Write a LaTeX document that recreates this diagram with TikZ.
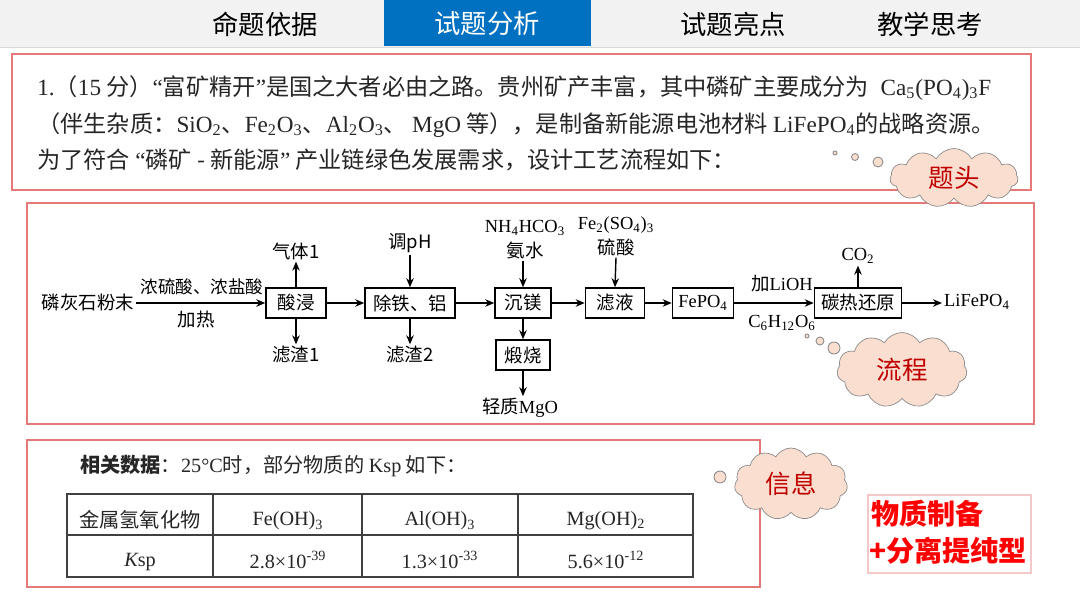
\documentclass[tikz,border=0pt]{standalone}
\usepackage{fontspec}
\setmainfont{Noto Sans CJK SC}
\newfontfamily\tnr{Liberation Serif}
\usetikzlibrary{positioning,arrows.meta,shapes.symbols}
\definecolor{framered}{RGB}{230,120,120}
\definecolor{tabblue}{RGB}{0,112,192}
\definecolor{barbg}{RGB}{242,242,242}
\definecolor{cloudfill}{RGB}{250,222,207}
\definecolor{cloudtext}{RGB}{192,0,0}
\definecolor{typered}{RGB}{255,0,0}
\definecolor{typeframe}{RGB}{244,200,200}
\newcommand\la[1]{{\tnr #1}}
\newcommand\sub[1]{\textsubscript{#1}}
\tikzset{
  redframe/.style={draw=framered,line width=0.8pt},
  procbox/.style={draw,line width=0.9pt,minimum height=0.6cm,inner sep=2pt,font=\fontsize{10.5}{12}\selectfont},
  flow/.style={-{Stealth[length=1.8mm,width=1.5mm]},line width=0.8pt},
  flowlbl/.style={inner sep=1pt,font=\fontsize{10.5}{12}\selectfont},
  tabtitle/.style={font=\fontsize{15}{18}\selectfont},
  stemline/.style={anchor=west,inner sep=0pt,font=\fontsize{13.2}{15}\selectfont,text=black!85},
  cloudnote/.style={cloud,cloud puffs=11,cloud puff arc=120,aspect=2.2,draw=black!45,
    fill=cloudfill,text=cloudtext,font=\fontsize{14.5}{17}\selectfont,inner sep=0pt},
  bub/.style={draw=black!45,fill=cloudfill,line width=0.5pt},
  celltxt/.style={inner sep=1pt,font=\fontsize{11.5}{13}\selectfont,text=black!85},
  tabrule/.style={line width=0.7pt,black!75},
}

\begin{document}
\begin{tikzpicture}[x=0.02cm,y=-0.02cm]
  \fill[white] (0,0) rectangle (1080,608);
  \useasboundingbox (0,0) rectangle (1080,608);
  % ---- tab bar ----
  \fill[barbg] (0,0) rectangle (1080,47);
  \draw[black!15] (0,47) -- (1080,47);
  \fill[tabblue] (384,0) rectangle (591,46);
  \node[tabtitle] (tab1) at (265,24) {命题依据};
  \node[tabtitle,text=white] (tab2) at (487,24) {试题分析};
  \node[tabtitle] (tab3) at (733,24) {试题亮点};
  \node[tabtitle] (tab4) at (930,24) {教学思考};

  % ---- stem ----
  \draw[redframe] (12,54) rectangle (1031,190);
  \node[stemline] (l1) at (37,88)
    {\la{1.}（\la{15} 分）\la{“}富矿精开\la{”}是国之大者必由之路。贵州矿产丰富，其中磷矿主要成分为\hspace{0.5em}\la{Ca\sub{5}(PO\sub{4})\sub{3}F}};
  \node[stemline] (l2) at (37,125)
    {（伴生杂质：\la{SiO\sub{2}}、\la{Fe\sub{2}O\sub{3}}、\la{Al\sub{2}O\sub{3}}、 \la{MgO} 等），是制备新能源电池材料 \la{LiFePO\sub{4}}的战略资源。};
  \node[stemline] (l3) at (37,160)
    {为了符合 \la{“}磷矿 - 新能源\la{”} 产业链绿色发展需求，设计工艺流程如下：};

  % ---- flow chart ----
  \draw[redframe] (27,203) rectangle (1034,424);
  \node[flowlbl] (src) at (88,303) {磷灰石粉末};
  \node[procbox,minimum width=1.2cm] (sj) at (296,303) {酸浸};
  \node[procbox,minimum width=1.8cm] (dfe) at (410,303) {除铁、铝};
  \node[procbox,minimum width=1.12cm] (cm) at (523,303) {沉镁};
  \node[procbox,minimum width=1.08cm] (ds) at (523,355) {煅烧};
  \node[procbox,minimum width=1.18cm] (lv) at (615,303) {滤液};
  \node[procbox,minimum width=1.22cm] (fp) at (703,303) {\la{FePO\sub{4}}};
  \node[procbox,minimum width=1.74cm] (tr) at (858,303) {碳热还原};
  \node[flowlbl,anchor=west] (prod) at (942,302) {\la{LiFePO\sub{4}}};
  \node[flowlbl,font=\fontsize{10}{12}\selectfont] (acid) at (202,287) {浓硫酸、浓盐酸};
  \node[flowlbl] (heat) at (196,320) {加热};
  \node[flowlbl] (gas1) at (296,251) {气体1};
  \node[flowlbl] (res1) at (296,355) {滤渣1};
  \node[flowlbl] (ph) at (410,243) {调pH};
  \node[flowlbl] (res2) at (410,355) {滤渣2};
  \node[flowlbl] (nh4) at (525,228) {\la{NH\sub{4}HCO\sub{3}}};
  \node[flowlbl] (nh3) at (525,250) {氨水};
  \node[flowlbl] (mgo) at (520,408) {轻质\la{MgO}};
  \node[flowlbl] (fe2) at (616,225) {\la{Fe\sub{2}(SO\sub{4})\sub{3}}};
  \node[flowlbl] (acid2) at (616,247) {硫酸};
  \node[flowlbl] (lioh) at (782,284) {加\la{LiOH}};
  \node[flowlbl] (glu) at (782,323) {\la{C\sub{6}H\sub{12}O\sub{6}}};
  \node[flowlbl] (co2) at (858,256) {\la{CO\sub{2}}};
  \draw[flow] (src.east) -- (sj.west);
  \draw[flow] (sj.north) -- (gas1.south);
  \draw[flow] (sj.south) -- (res1.north);
  \draw[flow] (sj.east) -- (dfe.west);
  \draw[flow] (ph.south) -- (dfe.north);
  \draw[flow] (dfe.south) -- (res2.north);
  \draw[flow] (dfe.east) -- (cm.west);
  \draw[flow] (cm.north |- nh3.south) -- (cm.north);
  \draw[flow] (cm.south) -- (ds.north);
  \draw[flow] (ds.south) -- (ds.south |- mgo.north);
  \draw[flow] (cm.east) -- (lv.west);
  \draw[flow] (acid2.south) -- (lv.north);
  \draw[flow] (lv.east) -- (fp.west);
  \draw[flow] (fp.east) -- (tr.west);
  \draw[flow] (tr.north) -- (co2.south);
  \draw[flow] (tr.east) -- (tr.east -| prod.west);

  % ---- data table ----
  \draw[redframe] (27,440) rectangle (760,587);
  \node[celltxt,anchor=west] (info) at (78,466)
    {\bfseries 相关数据\mdseries：\la{25°C}时，部分物质的 \la{Ksp} 如下：};
  \draw[tabrule] (67,494) rectangle (693,577);
  \draw[tabrule] (67,535) -- (693,535);
  \foreach \cx in {213,362,518} \draw[tabrule] (\cx,494) -- (\cx,577);
  \node[celltxt] (h0) at (140,520) {金属氢氧化物};
  \node[celltxt] (h1) at (288,521) {\la{Fe(OH)\sub{3}}};
  \node[celltxt] (h2) at (440,521) {\la{Al(OH)\sub{3}}};
  \node[celltxt] (h3) at (606,521) {\la{Mg(OH)\sub{2}}};
  \node[celltxt] (k0) at (140,562) {\la{\itshape K\upshape sp}};
  \node[celltxt] (k1) at (288,560) {\la{2.8×10\textsuperscript{-39}}};
  \node[celltxt] (k2) at (440,560) {\la{1.3×10\textsuperscript{-33}}};
  \node[celltxt] (k3) at (606,560) {\la{5.6×10\textsuperscript{-12}}};

  % ---- type box ----
  \draw[typeframe,line width=0.6pt] (868,495) rectangle (1031,573);
  \node[anchor=west,inner sep=0pt,text=typered,font=\fontsize{16}{19}\selectfont\bfseries] (ty1) at (871,514) {物质制备};
  \node[anchor=west,inner sep=0pt,text=typered,font=\fontsize{16}{19}\selectfont\bfseries] (ty2) at (869,551) {+分离提纯型};

  % ---- thought clouds ----
  \draw[bub] (835,153) circle (0.04cm);
  \draw[bub] (855,157) circle (0.07cm);
  \draw[bub] (878,162) circle (0.1cm);
  \node[cloudnote,minimum width=2.56cm,minimum height=1.18cm] (c1) at (954,178) {题头};
  \draw[bub] (807,336) circle (0.04cm);
  \draw[bub] (820,341) circle (0.08cm);
  \draw[bub] (834,348) circle (0.12cm);
  \node[cloudnote,minimum width=2.6cm,minimum height=1.5cm] (c2) at (902,370) {流程};
  \draw[bub] (720,477) circle (0.12cm);
  \node[cloudnote,minimum width=2.26cm,minimum height=1.44cm] (c3) at (791,484) {信息};
\end{tikzpicture}
\end{document}
